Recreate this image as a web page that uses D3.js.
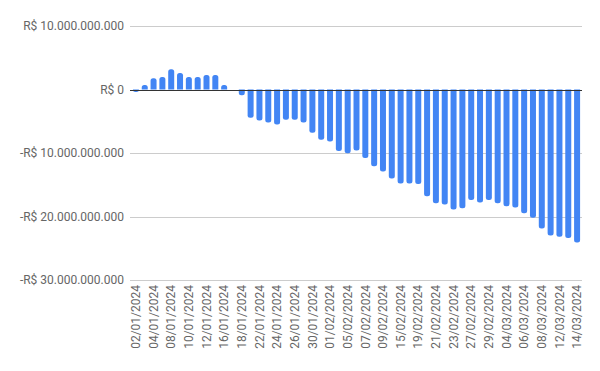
<!DOCTYPE html>
<html><head><meta charset="utf-8">
<script src="https://cdn.jsdelivr.net/npm/d3@7"></script>
<style>body{margin:0;background:#fff}svg{display:block}text{font-family:Roboto,Arial,sans-serif}</style>
</head><body><svg id="c" width="600" height="371"></svg>
<script>
const dates = ["02/01/2024","03/01/2024","04/01/2024","05/01/2024","08/01/2024","09/01/2024","10/01/2024","11/01/2024","12/01/2024","15/01/2024","16/01/2024","17/01/2024","18/01/2024","19/01/2024","22/01/2024","23/01/2024","24/01/2024","25/01/2024","26/01/2024","29/01/2024","30/01/2024","31/01/2024","01/02/2024","02/02/2024","05/02/2024","06/02/2024","07/02/2024","08/02/2024","09/02/2024","14/02/2024","15/02/2024","16/02/2024","19/02/2024","20/02/2024","21/02/2024","22/02/2024","23/02/2024","26/02/2024","27/02/2024","28/02/2024","29/02/2024","01/03/2024","04/03/2024","05/03/2024","06/03/2024","07/03/2024","08/03/2024","11/03/2024","12/03/2024","13/03/2024","14/03/2024"];
const valuesBi = [-0.4,0.7,1.76,1.97,3.2,2.6,1.97,1.95,2.28,2.28,0.7,0,-0.9,-4.43,-4.9,-5.2,-5.5,-4.75,-4.75,-5.2,-6.8,-7.9,-8.2,-9.7,-10.05,-9.6,-10.8,-12.1,-12.9,-14.0,-14.8,-14.8,-14.9,-16.8,-17.9,-18.1,-18.9,-18.7,-17.4,-17.8,-17.4,-17.9,-18.4,-18.6,-19.5,-20.2,-21.9,-23.0,-23.2,-23.4,-24.1];
const values = valuesBi.map(v => v * 1e9);
const yTicks = [10e9, 0, -10e9, -20e9, -30e9];
const yTickLabels = ["R$ 10.000.000.000","R$ 0","-R$ 10.000.000.000","-R$ 20.000.000.000","-R$ 30.000.000.000"];

const svg = d3.select("#c");
const x = d3.scaleBand().domain(dates).range([131.5, 581.5]).paddingInner(0.32).paddingOuter(0.16);
const y = d3.scaleLinear().domain([-30e9, 10e9]).range([280, 26]);
const left = 130, right = 582;

// grid
svg.append("g").selectAll("line").data(yTicks.filter(t => t !== 0)).join("line")
  .attr("x1", left).attr("x2", right)
  .attr("y1", d => Math.round(y(d)) + 0.5).attr("y2", d => Math.round(y(d)) + 0.5)
  .attr("stroke", "#cccccc").attr("stroke-width", 1);

// y labels
svg.append("g").selectAll("text").data(yTicks).join("text")
  .attr("x", 124).attr("y", d => y(d)).attr("dy", "0.35em")
  .attr("text-anchor", "end").attr("font-size", 12).attr("fill", "#666666")
  .text((d, i) => yTickLabels[i]);

// bars
const r = 2.5;
function barPath(d, i) {
  const v = values[i];
  const bx = x(d), w = x.bandwidth();
  const y0 = y(0), y1 = y(v);
  if (Math.abs(y1 - y0) < 0.5) return "";
  const rr = Math.min(r, Math.abs(y1 - y0), w / 2);
  if (v < 0) {
    return `M${bx},${y0}V${y1 - rr}Q${bx},${y1} ${bx + rr},${y1}H${bx + w - rr}Q${bx + w},${y1} ${bx + w},${y1 - rr}V${y0}Z`;
  } else {
    return `M${bx},${y0}V${y1 + rr}Q${bx},${y1} ${bx + rr},${y1}H${bx + w - rr}Q${bx + w},${y1} ${bx + w},${y1 + rr}V${y0}Z`;
  }
}
svg.append("g").selectAll("path").data(dates).join("path")
  .attr("d", barPath).attr("fill", "#4285f4");

// zero line
svg.append("line").attr("x1", left).attr("x2", right)
  .attr("y1", Math.round(y(0)) + 0.5).attr("y2", Math.round(y(0)) + 0.5)
  .attr("stroke", "#333333").attr("stroke-width", 1);

// x labels (every other)
svg.append("g").selectAll("text").data(dates.filter((d, i) => i % 2 === 0)).join("text")
  .attr("transform", d => `translate(${x(d) + x.bandwidth() / 2},285) rotate(-90)`)
  .attr("dy", "0.35em").attr("text-anchor", "end")
  .attr("font-size", 12).attr("fill", "#666666")
  .text(d => d);
</script></body></html>
